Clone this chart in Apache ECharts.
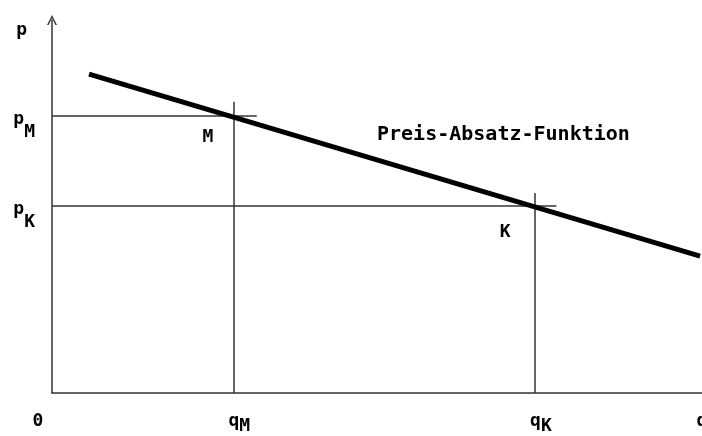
<!DOCTYPE html>
<html>
<head>
<meta charset="utf-8">
<script src="https://cdn.jsdelivr.net/npm/echarts@6/dist/echarts.min.js"></script>
<style>
  html, body { margin: 0; background: #fff; }
  #chart { width: 702px; height: 436px; }
</style>
</head>
<body>
<div id="chart"></div>
<script>
// Preis-Absatz-Funktion: Menge q (x), Preis p (y), Punkte M und K

// Nachfragegerade (Anfang, Ende)
const demandQ = [5.7, 99.7];
const demandP = [85.5, 36.7];

// markierte Punkte
const pointNames = ["M", "K"];
const pointQ = [27.9, 74.3];
const pointP = [74.4, 50.2];
// Hilfslinien ragen etwas über den Punkt hinaus
const guideEndQ = [31.5, 77.6];
const guideEndP = [78.1, 53.6];

// Beschriftungen im Diagramm
const noteText = ["M", "K", "Preis-Absatz-Funktion"];
const noteQ = [24.0, 69.7, 50.0];
const noteP = [68.6, 43.2, 69.2];

// Achsenbeschriftungen
const xTickValues = [0, pointQ[0], pointQ[1], 100];
const xTickLabels = ["0", "q_M", "q_K", "q"];
const yTickValues = [pointP[0], pointP[1], 98.1];
const yTickLabels = ["p_M", "p_K", "p"];

const FONT = "DejaVu Sans Mono";
const INK = "#000";
const RULE = "#333";

const letter = { fontFamily: FONT, fontWeight: "bold", fontSize: 18, lineHeight: 18, color: INK };

// Index-Suche über den Wert, Rückgabe als Rich-Text (Haupt + Index)
function tickText(values, labels, mainKey, soloKey) {
  return (v) => {
    const i = values.findIndex((x) => Math.abs(x - v) < 1e-6);
    if (i < 0) return "";
    const [main, sub] = labels[i].split("_");
    if (sub) return `{${mainKey}|${main}}{s|${sub}}`;
    return `{${soloKey(main)}|${main}}`;
  };
}

const guides = [];
pointQ.forEach((q, i) => {
  guides.push({ coords: [[0, pointP[i]], [guideEndQ[i], pointP[i]]] });
  guides.push({ coords: [[q, 0], [q, guideEndP[i]]] });
});

const chart = echarts.init(document.getElementById("chart"), null, { renderer: "canvas" });
chart.setOption({
  animation: false,
  backgroundColor: "#fff",
  grid: { left: 52, right: 0, top: 20, bottom: 43, containLabel: false, outerBoundsMode: "none" },
  xAxis: {
    type: "value", min: 0, max: 100,
    splitLine: { show: false },
    axisTick: { show: false },
    axisLine: { lineStyle: { color: RULE, width: 1.5 } },
    axisLabel: {
      customValues: xTickValues,
      margin: 19,
      hideOverlap: false,
      formatter: tickText(xTickValues, xTickLabels, "q", (m) => (m === "0" ? "z" : "e")),
      rich: {
        q: { ...letter, padding: [0, 0, 0, 12] },
        s: { ...letter, padding: [10, 0, 0, 0] },
        z: { ...letter, padding: [0, 28, 0, 0] },
        e: { ...letter, padding: [0, 0, 0, 0] }
      }
    }
  },
  yAxis: {
    type: "value", min: 0, max: 100,
    splitLine: { show: false },
    axisTick: { show: false },
    axisLine: {
      lineStyle: { color: RULE, width: 1.5 },
      symbol: ["none", "path://M0,10 L5,0 L10,10 L8.4,10 L5,3 L1.6,10 Z"],
      symbolSize: [10, 10]
    },
    axisLabel: {
      customValues: yTickValues,
      margin: 17,
      hideOverlap: false,
      formatter: tickText(yTickValues, yTickLabels, "p", () => "t"),
      rich: {
        p: { ...letter, verticalAlign: "top", padding: [4, 0, 25, 0] },
        s: { ...letter, verticalAlign: "top", padding: [17, 0, 12, 0] },
        t: { ...letter, verticalAlign: "top", padding: [3, 8, 26, 0] }
      }
    }
  },
  series: [
    {
      name: "Hilfslinien",
      type: "lines",
      coordinateSystem: "cartesian2d",
      polyline: false,
      silent: true,
      lineStyle: { color: RULE, width: 1.5, opacity: 1 },
      data: guides
    },
    {
      name: "Preis-Absatz-Funktion",
      type: "line",
      symbol: "none",
      silent: true,
      lineStyle: { color: INK, width: 5 },
      data: demandQ.map((q, i) => [q, demandP[i]])
    },
    {
      name: "Beschriftung",
      type: "scatter",
      symbolSize: 0,
      silent: true,
      itemStyle: { opacity: 1 },
      data: noteText.map((t, i) => ({
        value: [noteQ[i], noteP[i]],
        label: { align: t.length > 1 ? "left" : "center", fontSize: t.length > 1 ? 20 : 18 }
      })),
      label: {
        show: true,
        position: "inside",
        verticalAlign: "middle",
        opacity: 1,
        formatter: (p) => noteText[p.dataIndex],
        ...letter
      }
    }
  ]
});
</script>
</body>
</html>
